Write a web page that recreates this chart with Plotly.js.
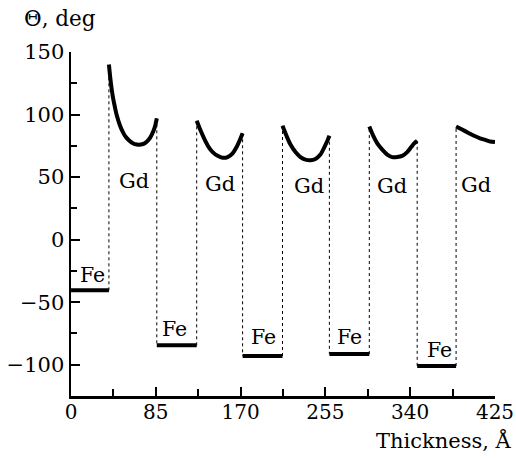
<!DOCTYPE html>
<html>
<head>
<meta charset="utf-8">
<script src="https://cdn.plot.ly/plotly-3.0.1.min.js"></script>
<style>html,body{margin:0;padding:0;background:#fff;}</style>
</head>
<body>
<div id="chart" style="width:516px;height:459px;"></div>
<script>
// Fe layers: start, end, angle (deg)
const feStart = [0, 86, 172, 259, 347];
const feEnd   = [38, 126, 212, 299, 386];
const feAngle = [-40.5, -84.5, -93, -91.5, -101];

// Gd layers: angle profiles
const gd1x = [38, 39, 40, 41, 42, 44, 46, 49, 52, 55, 58, 62, 66, 70, 74, 78, 81, 84, 86];
const gd1y = [140, 132, 125, 119, 114, 106, 99, 91.5, 86, 82, 79.5, 77, 76, 76, 77, 80, 84, 90, 97];
const gd2x = [126, 130, 134, 138, 142, 147, 152, 157, 162, 166, 170, 172];
const gd2y = [95, 87, 80, 74, 70, 67, 65.5, 66, 69, 74, 81, 85];
const gd3x = [212, 216, 220, 225, 230, 235, 240, 245, 250, 254, 257, 259];
const gd3y = [91, 83, 76, 70, 66, 64, 63.5, 64.5, 68, 74, 79, 83];
const gd4x = [299, 303, 307, 312, 317, 322, 327, 332, 337, 341, 344, 347];
const gd4y = [90.5, 83, 77, 72, 68, 66, 66, 67, 70, 74, 77, 79];
const gd5x = [386, 392, 398, 404, 410, 416, 420, 425];
const gd5y = [90.5, 88, 85.5, 83, 81, 79.5, 78.5, 78];

// Labels
const feLabelX = [21.3, 104, 192.5, 279, 369];
const feLabelY = [-28.5, -71.5, -78, -78, -88];
const gdLabelX = [62.8, 149, 239, 322, 406];
const gdLabelY = [47, 44.5, 43, 43, 43.5];

const xTicks = [0, 85, 170, 255, 340, 425];
const yTicks = [-100, -50, 0, 50, 100, 150];

const gdX = [gd1x, gd2x, gd3x, gd4x, gd5x];
const gdY = [gd1y, gd2y, gd3y, gd4y, gd5y];

const traces = [];
const cx = [], cy = [];
for (let i = 0; i < 5; i++) {
  cx.push(feEnd[i], gdX[i][0], null);
  cy.push(feAngle[i], gdY[i][0], null);
  if (i < 4) {
    const gx = gdX[i], gy = gdY[i];
    cx.push(gx[gx.length - 1], feStart[i + 1], null);
    cy.push(gy[gy.length - 1], feAngle[i + 1], null);
  }
}
traces.push({x: cx, y: cy, mode: 'lines', line: {color: '#000', width: 1, dash: 'dot'}, hoverinfo: 'skip'});
for (let i = 0; i < 5; i++) {
  traces.push({x: [feStart[i], feEnd[i]], y: [feAngle[i], feAngle[i]], mode: 'lines',
    line: {color: '#000', width: 4}});
  traces.push({x: gdX[i], y: gdY[i], mode: 'lines', line: {color: '#000', width: 4, shape: 'spline', smoothing: 0.8}});
}

const FAMILY = 'DejaVu Serif';
const font = {family: FAMILY, color: '#000', size: 21};
const annotations = [];
for (let i = 0; i < 5; i++) {
  annotations.push({x: feLabelX[i], y: feLabelY[i], text: 'Fe', showarrow: false,
    font: {family: FAMILY, color: '#000', size: 20.5}});
  annotations.push({x: gdLabelX[i], y: gdLabelY[i], text: 'Gd', showarrow: false,
    font: {family: FAMILY, color: '#000', size: 21}});
}
annotations.push({xref: 'paper', yref: 'paper', x: -0.115, y: 1.055, xanchor: 'left', yanchor: 'bottom',
  text: 'Θ, deg', showarrow: false, font: {family: FAMILY, color: '#000', size: 21.5}});
annotations.push({xref: 'paper', yref: 'paper', x: 1.045, y: -0.172, xanchor: 'right', yanchor: 'bottom',
  text: 'Thickness, Å', showarrow: false, font: {family: FAMILY, color: '#000', size: 21}});

const axisCommon = {
  showline: true, linecolor: '#000', linewidth: 2.5, showgrid: false, zeroline: false,
  ticks: 'inside', ticklen: 9, tickwidth: 2, tickcolor: '#000',
  tickfont: {family: FAMILY, color: '#000', size: 21}, fixedrange: true
};

const layout = {
  width: 516, height: 459,
  margin: {l: 71, r: 21, t: 52, b: 63},
  paper_bgcolor: '#fff', plot_bgcolor: '#fff',
  font: font,
  showlegend: false,
  xaxis: Object.assign({}, axisCommon, {range: [0, 425], tickvals: xTicks, ticktext: xTicks.map(String),
    ticklabelstandoff: -4, tickfont: {family: FAMILY, color: '#000', size: 20},
    minor: {tickvals: [42.5, 127.5, 212.5, 297.5, 382.5], ticks: 'inside', ticklen: 7, tickwidth: 2, tickcolor: '#000'}}),
  yaxis: Object.assign({}, axisCommon, {range: [-125, 150], tickvals: yTicks,
    minor: {tickvals: [-75, -25, 25, 75, 125], ticks: 'inside', ticklen: 6, tickwidth: 2, tickcolor: '#000'}}),
  annotations: annotations
};

Plotly.newPlot('chart', traces, layout, {displayModeBar: false, staticPlot: true});
</script>
</body>
</html>
